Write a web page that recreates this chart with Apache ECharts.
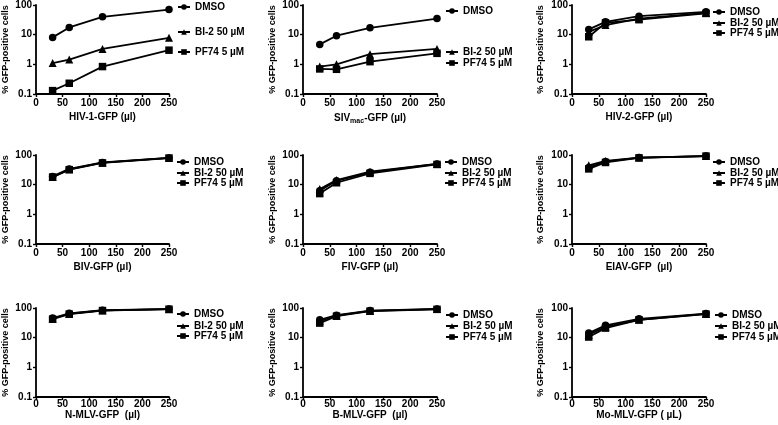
<!DOCTYPE html>
<html><head><meta charset="utf-8">
<script src="https://cdn.jsdelivr.net/npm/echarts@6/dist/echarts.min.js"></script>
<style>html,body{margin:0;padding:0;background:#fff}#c{width:778px;height:425px}</style>
</head><body><div id="c"></div>
<script>
// ---- data ----
const doses = [31.25, 62.5, 125, 250];
const seriesNames = ['DMSO', 'BI-2 50 µM', 'PF74 5 µM'];
const seriesSymbols = ['circle', 'triangle', 'rect'];
const yTicks = [0.1, 1, 10, 100];
const xTitles = ['HIV-1-GFP (µl)', '{a|SIV}{s|mac}{a|-GFP (µl)}', 'HIV-2-GFP (µl)',
                 'BIV-GFP (µl)', 'FIV-GFP (µl)', 'EIAV-GFP  (µl)',
                 'N-MLV-GFP  (µl)', 'B-MLV-GFP  (µl)', 'Mo-MLV-GFP ( µL)'];
// each: [DMSO, BI-2 50 µM, PF74 5 µM]
const hiv1 = [[8.1, 17.5, 40, 70], [1.1, 1.45, 3.3, 7.8], [0.13, 0.23, 0.84, 3.0]];
const siv  = [[4.7, 9.2, 17, 35], [0.84, 1.0, 2.2, 3.3], [0.7, 0.68, 1.23, 2.35]];
const hiv2 = [[15, 27, 42, 59], [12.5, 21, 35, 54], [8.5, 25, 32, 52]];
const biv  = [[19, 34, 56, 80], [18, 33, 55, 80], [18, 32, 54, 79]];
const fiv  = [[6.2, 13.5, 26, 50], [7.1, 14.3, 27.5, 50], [5.0, 11.6, 24, 48]];
const eiav = [[38, 60, 82, 92], [45, 63, 82, 92], [34, 56, 80, 92]];
const nmlv = [[46, 66, 84, 92], [44, 64, 83, 91], [42, 62, 82, 91]];
const bmlv = [[40, 57, 82, 93], [37, 55, 80, 92], [31, 53, 78, 90]];
const momlv = [[14.3, 26, 43, 65], [12.5, 23, 40, 63], [10.5, 21, 40, 62]];
const panels = [hiv1, siv, hiv2, biv, fiv, eiav, nmlv, bmlv, momlv];

// ---- layout ----
const colLeft = [35, 303, 572];
const rowTop = [5, 155, 308];
const gridW = 134, gridH = 89;
const legendTextX = [194, 462, 729, 193, 461, 729, 193, 462, 731];
const legendY = [[8, 33, 53], [12, 53, 64], [13, 24, 34],
                 [163, 174, 184], [163, 174, 184], [163, 174, 184],
                 [315, 327, 337], [316, 327, 338], [316, 327, 338]];
const rowNameGap = [18, 18, 10];
const rowLabelMargin = [4, 4, 2];
const yNameGap = [26, 26, 27];

const FONT = 'Liberation Sans, Arial, sans-serif';
const TXT = {fontFamily: FONT, fontWeight: 'bold', fontSize: 10, color: '#000'};

const grid = [], xAxis = [], yAxis = [], series = [], legend = [];
panels.forEach((p, i) => {
  const r = Math.floor(i / 3), c = i % 3;
  grid.push({left: colLeft[c], top: rowTop[r], width: gridW, height: gridH, containLabel: false});
  xAxis.push({
    type: 'value', gridIndex: i, min: 0, max: 250, interval: 50,
    name: xTitles[i], nameLocation: 'middle', nameGap: rowNameGap[r],
    nameTextStyle: Object.assign({}, TXT, {
      rich: {
        a: Object.assign({}, TXT),
        s: Object.assign({}, TXT, {fontSize: 7, padding: [6, 0, 0, 0]})
      }
    }),
    axisLine: {show: true, onZero: false, lineStyle: {color: '#000', width: 1.8}},
    axisTick: {show: true, length: 3, lineStyle: {color: '#000', width: 1.4}},
    axisLabel: Object.assign({}, TXT, {margin: rowLabelMargin[r]}),
    splitLine: {show: false}
  });
  yAxis.push({
    type: 'log', logBase: 10, gridIndex: i, min: yTicks[0], max: yTicks[yTicks.length - 1],
    name: '% GFP-positive cells', nameLocation: 'middle', nameGap: yNameGap[c], nameRotate: 90,
    nameTextStyle: Object.assign({}, TXT, {fontSize: 9}),
    axisLine: {show: true, onZero: false, lineStyle: {color: '#000', width: 1.8}},
    axisTick: {show: true, length: 3, lineStyle: {color: '#000', width: 1.4}},
    minorTick: {show: false},
    axisLabel: Object.assign({}, TXT, {margin: 4,
      formatter: v => String(+v.toPrecision(3))}),
    splitLine: {show: false}
  });
  p.forEach((vals, k) => {
    series.push({
      type: 'line', name: seriesNames[k], xAxisIndex: i, yAxisIndex: i,
      data: doses.map((d, j) => [d, vals[j]]),
      symbol: seriesSymbols[k], symbolSize: k === 1 ? 8 : 7.5,
      showAllSymbol: true,
      lineStyle: {color: '#000', width: 1.8},
      itemStyle: {color: '#000'},
      z: 2 + k
    });
    legend.push({
      data: [seriesNames[k]], left: legendTextX[i] - 17, top: legendY[i][k] - 6,
      padding: 0, itemWidth: 12, itemHeight: 7, selectedMode: false,
      textStyle: Object.assign({}, TXT)
    });
  });
});

const chart = echarts.init(document.getElementById('c'), null, {renderer: 'canvas'});
chart.setOption({animation: false, backgroundColor: '#fff', grid, xAxis, yAxis, series, legend});
</script></body></html>
